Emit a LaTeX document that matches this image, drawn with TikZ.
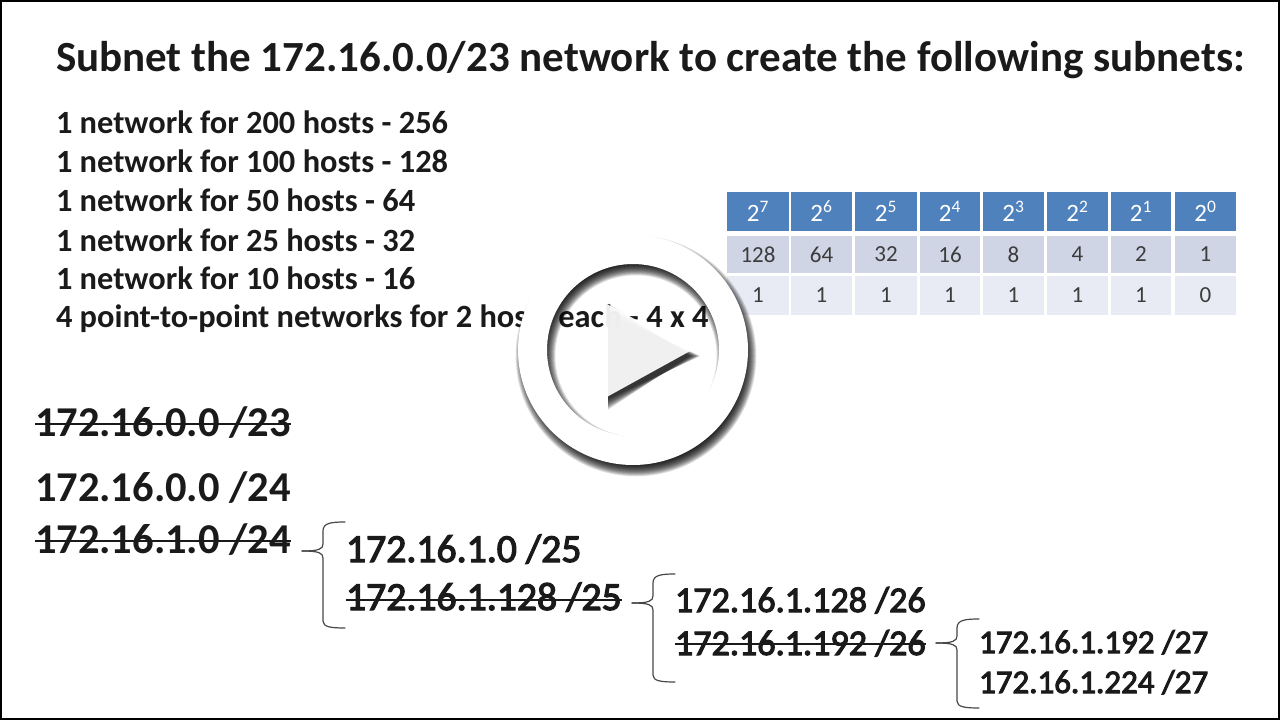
\documentclass[tikz,border=0pt]{standalone}
\usepackage{fontspec}
\setmainfont{Carlito}
\newfontfamily\semi[FakeBold=3]{Carlito}
\newcommand{\fs}[1]{\fontsize{#1}{#1}\selectfont}
\definecolor{hdr}{HTML}{4F81BD}
\definecolor{rowa}{HTML}{D0D5E6}
\definecolor{rowb}{HTML}{E9EBF4}
\definecolor{ink}{HTML}{1A1A1A}
\tikzset{
  txt/.style={anchor=base west,inner sep=0pt,outer sep=0pt,text=ink},
  titletxt/.style={txt,font=\fs{43}\bfseries},
  listtxt/.style={txt,font=\fs{32.4}\bfseries},
  bigtxt/.style={txt,font=\fs{42.5}\bfseries},
  midtxt/.style={txt,font=\semi\fs{39.7}},
  smalltxt/.style={txt,font=\semi\fs{36.1}},
  tinytxt/.style={txt,font=\semi\fs{33}},
  strike/.style={draw=ink,line width=1.8pt},
  bracket/.style={draw=ink!80,line width=1.2pt,line cap=round},
  hcell/.style={fill=hdr,draw=none,inner sep=0pt,text=white,font=\fs{25}},
  acell/.style={fill=rowa,draw=none,inner sep=0pt,text=ink!85,font=\fs{23}},
  bcell/.style={fill=rowb,draw=none,inner sep=0pt,text=ink!85,font=\fs{23}},
}
\begin{document}
\begin{tikzpicture}[x=1pt,y=-1pt]
\useasboundingbox (0,0) rectangle (1280,720);
\fill[white] (0,0) rectangle (1280,720);
% title and list
\node[titletxt] (title) at (56,71) {Subnet the 172.16.0.0/23 network to create the following subnets:};
\node[listtxt] (l1) at (56,133) {1 network for 200 hosts - 256};
\node[listtxt] (l2) at (56,172) {1 network for 100 hosts - 128};
\node[listtxt] (l3) at (56,211) {1 network for 50 hosts - 64};
\node[listtxt] (l4) at (56,251) {1 network for 25 hosts - 32};
\node[listtxt] (l5) at (56,289) {1 network for 10 hosts - 16};
\node[listtxt] (l6) at (56,327) {4 point-to-point networks for 2 hosts each - 4 x 4};
% table
\foreach \xa/\xb/\e/\v/\b [count=\i] in {727/789/7/128/1,791/852/6/64/1,855/917/5/32/1,920/980/4/16/1,983/1044/3/8/1,1047/1108/2/4/1,1111/1171/1/2/1,1175/1236/0/1/0}{
  \pgfmathsetmacro{\w}{\xb-\xa}
  \pgfmathsetmacro{\c}{(\xa+\xb)/2}
  \node[hcell,minimum width=\w pt,minimum height=39pt] (h\i) at (\c,211.5) {2\textsuperscript{\e}};
  \node[acell,minimum width=\w pt,minimum height=37pt] (a\i) at (\c,254.5) {\v};
  \node[bcell,minimum width=\w pt,minimum height=39pt] (b\i) at (\c,295.5) {\b};
}
% addresses
\node[bigtxt] (n1) at (35,436) {172.16.0.0 /23};
\node[bigtxt] (n2) at (35,501) {172.16.0.0 /24};
\node[bigtxt] (n3) at (35,553) {172.16.1.0 /24};
\node[midtxt] (n4) at (346,562) {172.16.1.0 /25};
\node[midtxt] (n5) at (346,610) {172.16.1.128 /25};
\node[smalltxt] (n6) at (675,612) {172.16.1.128 /26};
\node[smalltxt] (n7) at (675,655) {172.16.1.192 /26};
\node[tinytxt] (n8) at (979,653) {172.16.1.192 /27};
\node[tinytxt] (n9) at (979,693) {172.16.1.224 /27};
% strike-outs
\foreach \n/\y in {n1/424,n3/541,n5/600,n7/644}{
  \draw[strike] (\n.west |- 0,\y) -- (\n.east |- 0,\y);
}
% brackets
\coordinate (b1t) at (345,522); \coordinate (b1m) at (302,551); \coordinate (b1b) at (345,628);
\coordinate (b2t) at (675,574); \coordinate (b2m) at (632,603); \coordinate (b2b) at (675,682);
\coordinate (b3t) at (979,619); \coordinate (b3m) at (936,643); \coordinate (b3b) at (979,708);
\foreach \t/\m/\bt in {b1t/b1m/b1b,b2t/b2m/b2b,b3t/b3m/b3b}{
  \draw[bracket] (\t) .. controls ([xshift=-14pt]\t) and ([xshift=-22pt,yshift=-1pt]\t) .. ([xshift=-22pt,yshift=-9pt]\t)
     -- ([xshift=-22pt,yshift=7pt]\m -| \t) .. controls ([xshift=-22pt,yshift=2pt]\m -| \t) and ([xshift=-26pt]\m -| \t) .. (\m);
  \draw[bracket] (\m) .. controls ([xshift=-26pt]\m -| \t) and ([xshift=-22pt,yshift=-2pt]\m -| \t) .. ([xshift=-22pt,yshift=-7pt]\m -| \t)
     -- ([xshift=-22pt,yshift=7pt]\bt) .. controls ([xshift=-22pt,yshift=1pt]\bt) and ([xshift=-14pt]\bt) .. (\bt);
}
% play button shadow
\foreach \k in {1,...,24}{
  \fill[black,opacity=0.07,even odd rule,shift={(3,6)}]
     (633,350) circle ({115+6-\k*0.5}) (633,350) circle ({86-6+\k*0.5});
  \fill[black,opacity=0.06,shift={(3,6)}]
     (605,303+6-\k*0.5) -- (692+6-\k*0.5,350) -- (605,398-6+\k*0.5) -- cycle;
}
% play button
\fill[white,even odd rule] (633,350) circle (115) (633,350) circle (86);
\fill[white,opacity=.93] (605,303) -- (692,350) -- (605,398) -- cycle;
% frame
\draw[black,line width=2pt] (1,1) rectangle (1279,718.5);
\end{tikzpicture}
\end{document}
